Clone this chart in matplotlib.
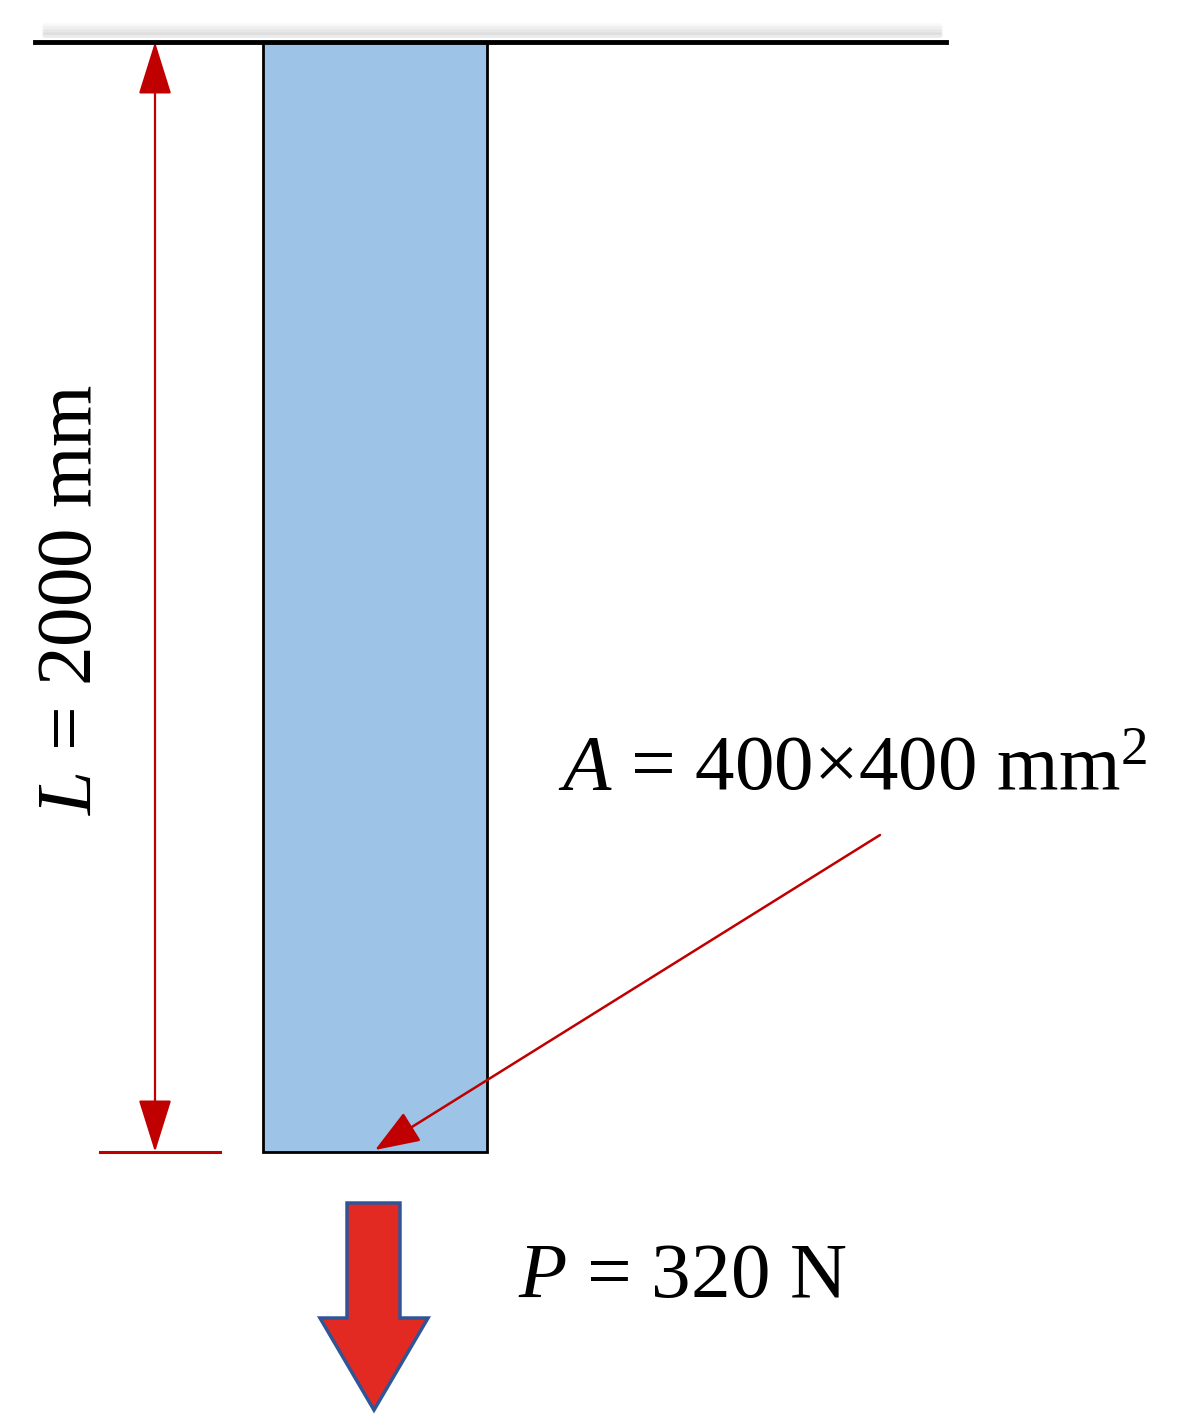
import matplotlib
matplotlib.use("Agg")
import matplotlib.pyplot as plt
from matplotlib.patches import Rectangle, Polygon, FancyArrowPatch

plt.rcParams["mathtext.fontset"] = "custom"
plt.rcParams["mathtext.it"] = "Liberation Serif:italic"
plt.rcParams["mathtext.rm"] = "Liberation Serif"

# data
length_label = ["L", "2000 mm"]
area_label = ["A", "400×400 mm$^2$"]
load_label = ["P", "320 N"]

W, H = 1198, 1426
fig = plt.figure(figsize=(W/100, H/100), dpi=100)
ax = fig.add_axes([0, 0, 1, 1])
ax.set_xlim(0, W); ax.set_ylim(H, 0); ax.axis("off")
serif = "Liberation Serif"

# shadow and ceiling line
for i, a in enumerate([0.05, 0.08, 0.12, 0.16]):
    ax.plot([45, 940], [26 + i*3, 26 + i*3], color="gray", lw=4, alpha=a, solid_capstyle="round")
ax.plot([35, 946], [42, 42], color="black", lw=3.5)

# bar
ax.add_patch(Rectangle((263, 42), 224, 1110, facecolor="#9DC3E6", edgecolor="black", lw=2))

# dimension line
ax.add_patch(FancyArrowPatch((155, 42), (155, 1152), arrowstyle="<|-|>,head_length=2.4,head_width=0.75",
                             color="#C00000", lw=1.6, mutation_scale=14, shrinkA=0, shrinkB=0))
ax.plot([100, 220], [1152, 1152], color="#C00000", lw=2.2)
ax.text(72, 600, f"$\\it{{{length_label[0]}}}$ = {length_label[1]}", rotation=90, ha="center", va="center",
        fontsize=57, family=serif)

# area label and pointer
ax.text(558, 770, f"$\\it{{{area_label[0]}}}$ = {area_label[1]}", ha="left", va="center",
        fontsize=57, family=serif)
ax.add_patch(FancyArrowPatch((880, 835), (375, 1150), arrowstyle="-|>,head_length=2.0,head_width=0.75",
                             color="#C00000", lw=1.8, mutation_scale=14, shrinkA=0, shrinkB=0))

# load arrow
ax.add_patch(Polygon([(347, 1203), (400, 1203), (400, 1318), (428, 1318), (374, 1410),
                      (320, 1318), (347, 1318)], closed=True, facecolor="#E32A22",
                     edgecolor="#2F5597", lw=2.5))
ax.text(518, 1278, f"$\\it{{{load_label[0]}}}$ = {load_label[1]}", ha="left", va="center",
        fontsize=57, family=serif)

fig.savefig("out.png", dpi=100, facecolor="white")
